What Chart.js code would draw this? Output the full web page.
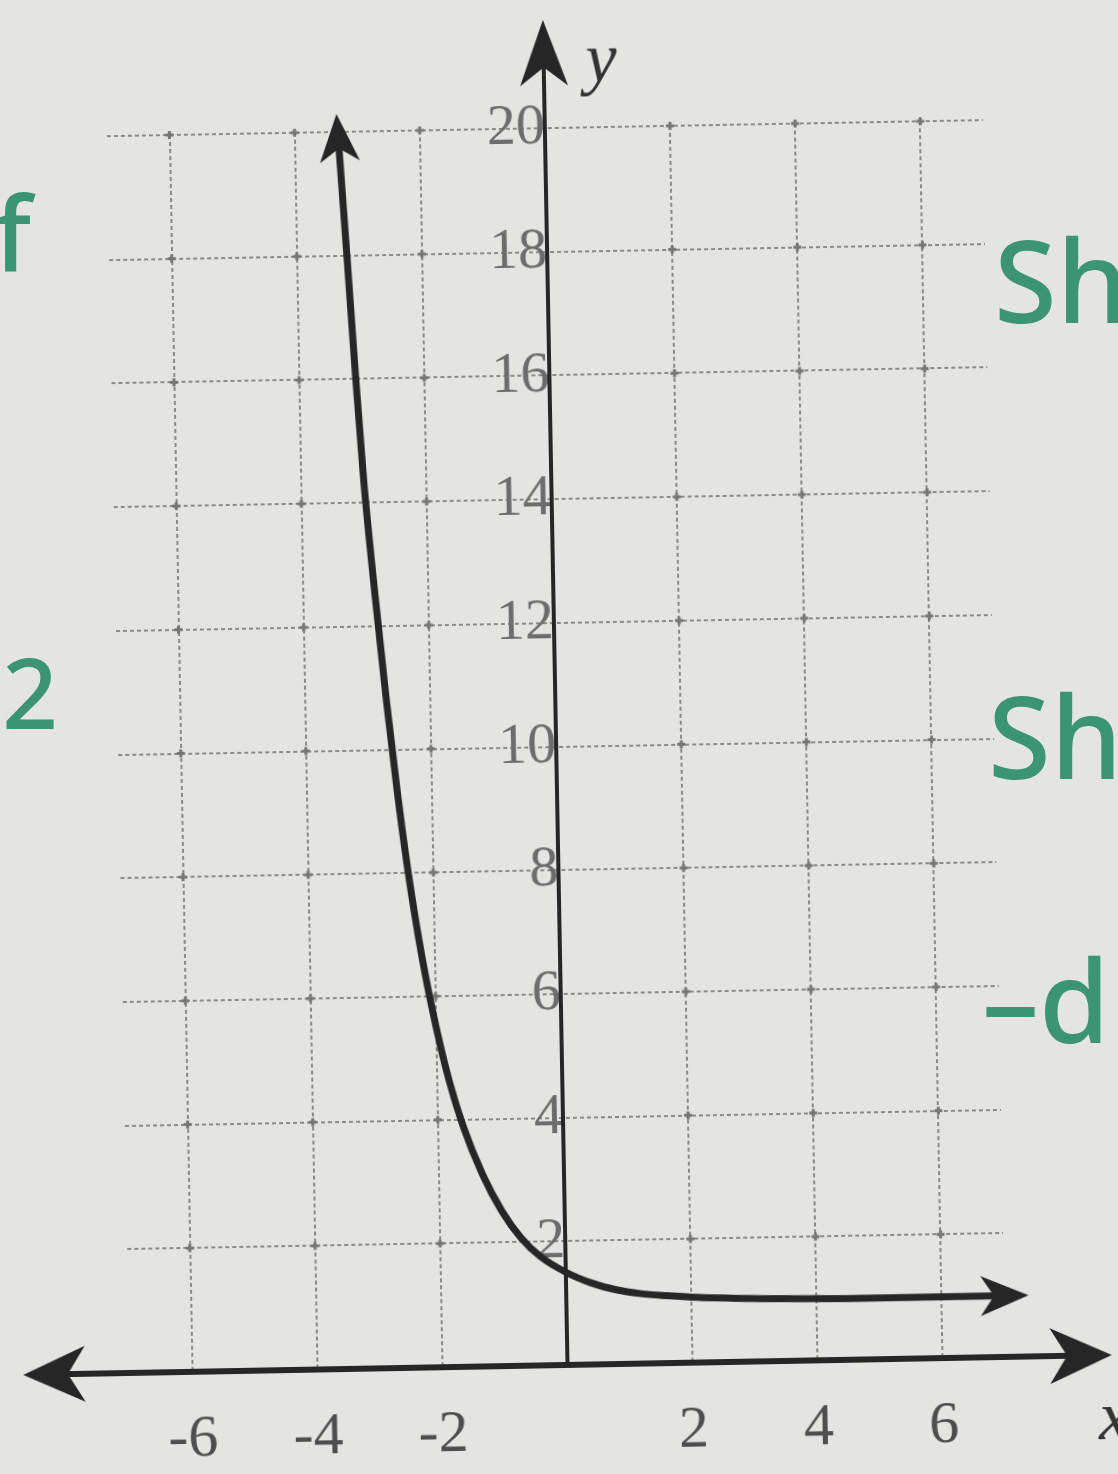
<!DOCTYPE html>
<html>
<head>
<meta charset="utf-8">
<script src="https://cdn.jsdelivr.net/npm/chart.js@4/dist/chart.umd.min.js"></script>
<style>
  html, body { margin: 0; padding: 0; background: #e4e4e2; overflow: hidden; }
  #wrap { position: relative; width: 1118px; height: 1474px; }
  #plot { position: absolute; left: 0; top: 0; transform: rotate(-1.05deg); transform-origin: 50% 50%; }
  .note { position: absolute; font-family: "Noto Sans", sans-serif; font-weight: 500; color: #3b9473; line-height: 1; white-space: nowrap; }
</style>
</head>
<body>
<div id="wrap">
  <canvas id="plot" width="1118" height="1474"></canvas>
  <div class="note" style="left:-6px; top:180px; font-size:104px;">f</div>
  <div class="note" style="left:2px; top:642px; font-size:98px;">2</div>
  <div class="note" style="left:994px; top:222px; font-size:114px;">Sh</div>
  <div class="note" style="left:988px; top:678px; font-size:114px;">Sh</div>
  <div class="note" style="left:982px; top:942px; font-size:114px;">–d</div>
</div>
<script>
// axis ticks as printed on the worksheet
var X_TICKS = [-6, -4, -2, 0, 2, 4, 6];
var Y_TICKS = [0, 2, 4, 6, 8, 10, 12, 14, 16, 18, 20];

// curve (x, y)
var CURVE_X = [-3.31, -3.2, -3.1, -3.0, -2.85, -2.7, -2.55, -2.4, -2.2, -2.0, -1.8, -1.6, -1.3, -1.0, -0.7, -0.4, 0, 0.4, 0.8, 1.2, 1.6, 2, 3, 4, 5, 6, 7.1];
var CURVE_Y = [20.0, 18.0, 16.1, 14.4, 12.5, 10.8, 9.3, 8.0, 6.6, 5.5, 4.6, 3.9, 3.1, 2.5, 2.06, 1.76, 1.5, 1.32, 1.2, 1.13, 1.09, 1.06, 1.02, 1.0, 0.99, 0.99, 0.99];

var INK = '#262626';
var GRID = '#8a8a88';
var SERIF = '"Liberation Serif", "DejaVu Serif", serif';

function arrowHead(ctx, tx, ty, ang, len, half) {
  var c = Math.cos(ang), s = Math.sin(ang);
  ctx.beginPath();
  ctx.moveTo(tx, ty);
  ctx.lineTo(tx - len * c - half * s, ty - len * s + half * c);
  ctx.lineTo(tx - len * 0.72 * c, ty - len * 0.72 * s);
  ctx.lineTo(tx - len * c + half * s, ty - len * s - half * c);
  ctx.closePath();
  ctx.fill();
}

// grid dots, axes with arrows, curve arrowheads, axis letters
var paperAxes = {
  id: 'paperAxes',
  beforeDatasetsDraw: function(chart) {
    var ctx = chart.ctx, xs = chart.scales.x, ys = chart.scales.y;
    ctx.save();
    ctx.fillStyle = '#767674';
    X_TICKS.forEach(function(xv) {
      if (xv === 0) return;
      Y_TICKS.forEach(function(yv) {
        if (yv === 0) return;
        var px = xs.getPixelForValue(xv), py = ys.getPixelForValue(yv);
        ctx.fillRect(px - 4, py - 1.5, 8, 3);
        ctx.fillRect(px - 1.5, py - 4, 3, 8);
      });
    });
    var x0 = xs.getPixelForValue(0), y0 = ys.getPixelForValue(0);
    var xl = xs.getPixelForValue(-8.7), xr = xs.getPixelForValue(8.7);
    var yt = ys.getPixelForValue(21.75);
    ctx.strokeStyle = INK;
    ctx.fillStyle = INK;
    ctx.lineWidth = 6;
    ctx.beginPath();
    ctx.moveTo(xl + 30, y0); ctx.lineTo(xr - 30, y0);
    ctx.stroke();
    ctx.lineWidth = 4;
    ctx.beginPath();
    ctx.moveTo(x0, y0 + 2); ctx.lineTo(x0, yt + 40);
    ctx.stroke();
    arrowHead(ctx, xl, y0, Math.PI, 62, 28);
    arrowHead(ctx, xr, y0, 0, 62, 28);
    arrowHead(ctx, x0, yt, -Math.PI / 2, 66, 24);
    ctx.font = 'italic 70px ' + SERIF;
    ctx.textAlign = 'left';
    ctx.textBaseline = 'alphabetic';
    ctx.fillStyle = '#333';
    ctx.fillText('y', x0 + 42, yt + 62);
    ctx.fillText('x', xr - 14, y0 + 84);
    ctx.restore();
  },
  afterDatasetsDraw: function(chart) {
    var ctx = chart.ctx, pts = chart.getDatasetMeta(0).data;
    if (pts.length < 2) return;
    ctx.save();
    ctx.fillStyle = INK;
    var a = pts[0], b = pts[1];
    var ang = Math.atan2(a.y - b.y, a.x - b.x);
    arrowHead(ctx, a.x + 18 * Math.cos(ang), a.y + 18 * Math.sin(ang), ang, 48, 20);
    var n = pts.length, c = pts[n - 1], d = pts[n - 2];
    ang = Math.atan2(c.y - d.y, c.x - d.x);
    arrowHead(ctx, c.x + 18 * Math.cos(ang), c.y + 18 * Math.sin(ang), ang, 48, 20);
    ctx.restore();
  },
  // x tick labels taken from the x scale's own ticks, set in the printed serif face
  afterDraw: function(chart) {
    var ctx = chart.ctx, xs = chart.scales.x, ys = chart.scales.y;
    var y0 = ys.getPixelForValue(0);
    ctx.save();
    ctx.font = '60px ' + SERIF;
    ctx.fillStyle = '#4e4e4e';
    ctx.textAlign = 'center';
    ctx.textBaseline = 'middle';
    xs.ticks.forEach(function(t) {
      if (t.value === 0) return;
      ctx.fillText(String(t.value), xs.getPixelForValue(t.value), y0 + 68);
    });
    ctx.restore();
  }
};

var chart = new Chart(document.getElementById('plot'), {
  type: 'line',
  data: {
    datasets: [{
      data: CURVE_X.map(function(x, i) { return { x: x, y: CURVE_Y[i] }; }),
      borderColor: INK,
      borderWidth: 7,
      pointRadius: 0,
      pointHoverRadius: 0,
      cubicInterpolationMode: 'monotone',
      clip: false
    }]
  },
  options: {
    responsive: false,
    animation: false,
    events: [],
    layout: { padding: { left: 118, right: 124, top: 128, bottom: 109 } },
    plugins: { legend: { display: false }, tooltip: { enabled: false } },
    scales: {
      x: {
        type: 'linear',
        min: -7,
        max: 7,
        position: { y: 0 },
        afterBuildTicks: function(scale) { scale.ticks = X_TICKS.map(function(v) { return { value: v }; }); },
        grid: { color: GRID, lineWidth: 2, drawTicks: false },
        border: { display: false, dash: [4, 3] },
        ticks: { display: false }
      },
      y: {
        type: 'linear',
        min: 0,
        max: 20,
        position: { x: 0 },
        afterBuildTicks: function(scale) { scale.ticks = Y_TICKS.map(function(v) { return { value: v }; }); },
        grid: { color: GRID, lineWidth: 2, drawTicks: false },
        border: { display: false, dash: [4, 3] },
        ticks: {
          padding: 4,
          color: '#6c6c6c',
          font: { family: SERIF, size: 58 },
          callback: function(v) { return v === 0 ? '' : String(v); }
        }
      }
    }
  },
  plugins: [paperAxes]
});
</script>
</body>
</html>
